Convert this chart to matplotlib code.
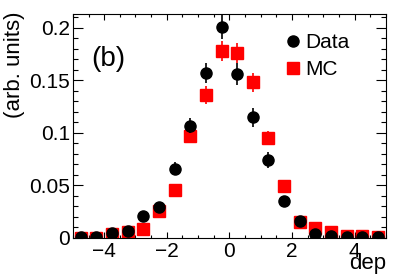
import matplotlib
matplotlib.use("Agg")
import matplotlib.pyplot as plt
from matplotlib.ticker import MultipleLocator, FuncFormatter

plt.rcParams['font.family'] = ['Liberation Sans', 'DejaVu Sans']

x_centers = [-4.75, -4.25, -3.75, -3.25, -2.75, -2.25, -1.75, -1.25, -0.75, -0.25,
             0.25, 0.75, 1.25, 1.75, 2.25, 2.75, 3.25, 3.75, 4.25, 4.75]
data_vals = [0.001, 0.001, 0.005, 0.007, 0.021, 0.029, 0.066, 0.107, 0.157, 0.201,
             0.156, 0.115, 0.074, 0.035, 0.016, 0.004, 0.002, 0.0005, 0.0005, 0.0005]
data_err = [0.001, 0.001, 0.002, 0.002, 0.004, 0.004, 0.0065, 0.0075, 0.0095, 0.012,
            0.0105, 0.009, 0.0075, 0.005, 0.003, 0.002, 0.001, 0.001, 0.001, 0.001]
mc_vals = [0.0, 0.0, 0.004, 0.006, 0.0088, 0.026, 0.046, 0.097, 0.136, 0.178,
           0.176, 0.148, 0.095, 0.049, 0.0155, 0.0095, 0.006, 0.002, 0.002, 0.001]
mc_err = [0.0005, 0.0005, 0.001, 0.0015, 0.002, 0.003, 0.004, 0.007, 0.0085, 0.0095,
          0.0095, 0.009, 0.007, 0.004, 0.002, 0.0015, 0.001, 0.001, 0.001, 0.0005]

fig = plt.figure(figsize=(4.07, 2.77), dpi=100)
ax = fig.add_axes([0.179, 0.141, 0.769, 0.808])

eb_data = ax.errorbar(x_centers, data_vals, yerr=data_err, fmt='o', color='black', ms=8,
                      elinewidth=1.2, capsize=0, zorder=3)
eb_mc = ax.errorbar(x_centers, mc_vals, yerr=mc_err, fmt='s', color='#ff0000', ms=8,
                    elinewidth=1.2, capsize=0, zorder=2)

ax.set_xlim(-5, 5)
ax.set_ylim(0, 0.213)

ax.xaxis.set_major_locator(MultipleLocator(2))
ax.xaxis.set_minor_locator(MultipleLocator(0.5))
ax.yaxis.set_major_locator(MultipleLocator(0.05))
ax.yaxis.set_minor_locator(MultipleLocator(0.01))

def yfmt(v, pos):
    if abs(v) < 1e-9:
        return '0'
    return ('%.2f' % v).rstrip('0')
ax.yaxis.set_major_formatter(FuncFormatter(yfmt))
ax.xaxis.set_major_formatter(FuncFormatter(lambda v, p: ('%d' % round(v)).replace('-', '\u2212')))

ax.tick_params(axis='both', which='both', direction='in', top=True, right=True,
               labelsize=15, width=0.8, color='black')
ax.tick_params(axis='x', which='major', length=4.5, pad=3)
ax.tick_params(axis='x', which='minor', length=2.3)
ax.tick_params(axis='y', which='major', length=7.2, pad=2)
ax.tick_params(axis='y', which='minor', length=3.6)
for sp in ax.spines.values():
    sp.set_linewidth(0.8)

fig.text(386/407, 1 - 263/277, 'dep', ha='right', va='center', fontsize=16)
fig.text(15/407, 1 - 12/277, '(arb. units)', rotation=90, ha='center', va='top', fontsize=16)
fig.text(91/407, 1 - 59/277, '(b)', ha='left', va='center', fontsize=20)

ax.legend(handles=[eb_data[0], eb_mc[0]], labels=['Data', 'MC'],
          loc='upper left', bbox_to_anchor=(0.676, 0.915), frameon=False, fontsize=15,
          handletextpad=0.2, handlelength=0.8, labelspacing=0.4, borderaxespad=0,
          borderpad=0)

fig.savefig('out.png', dpi=100)
